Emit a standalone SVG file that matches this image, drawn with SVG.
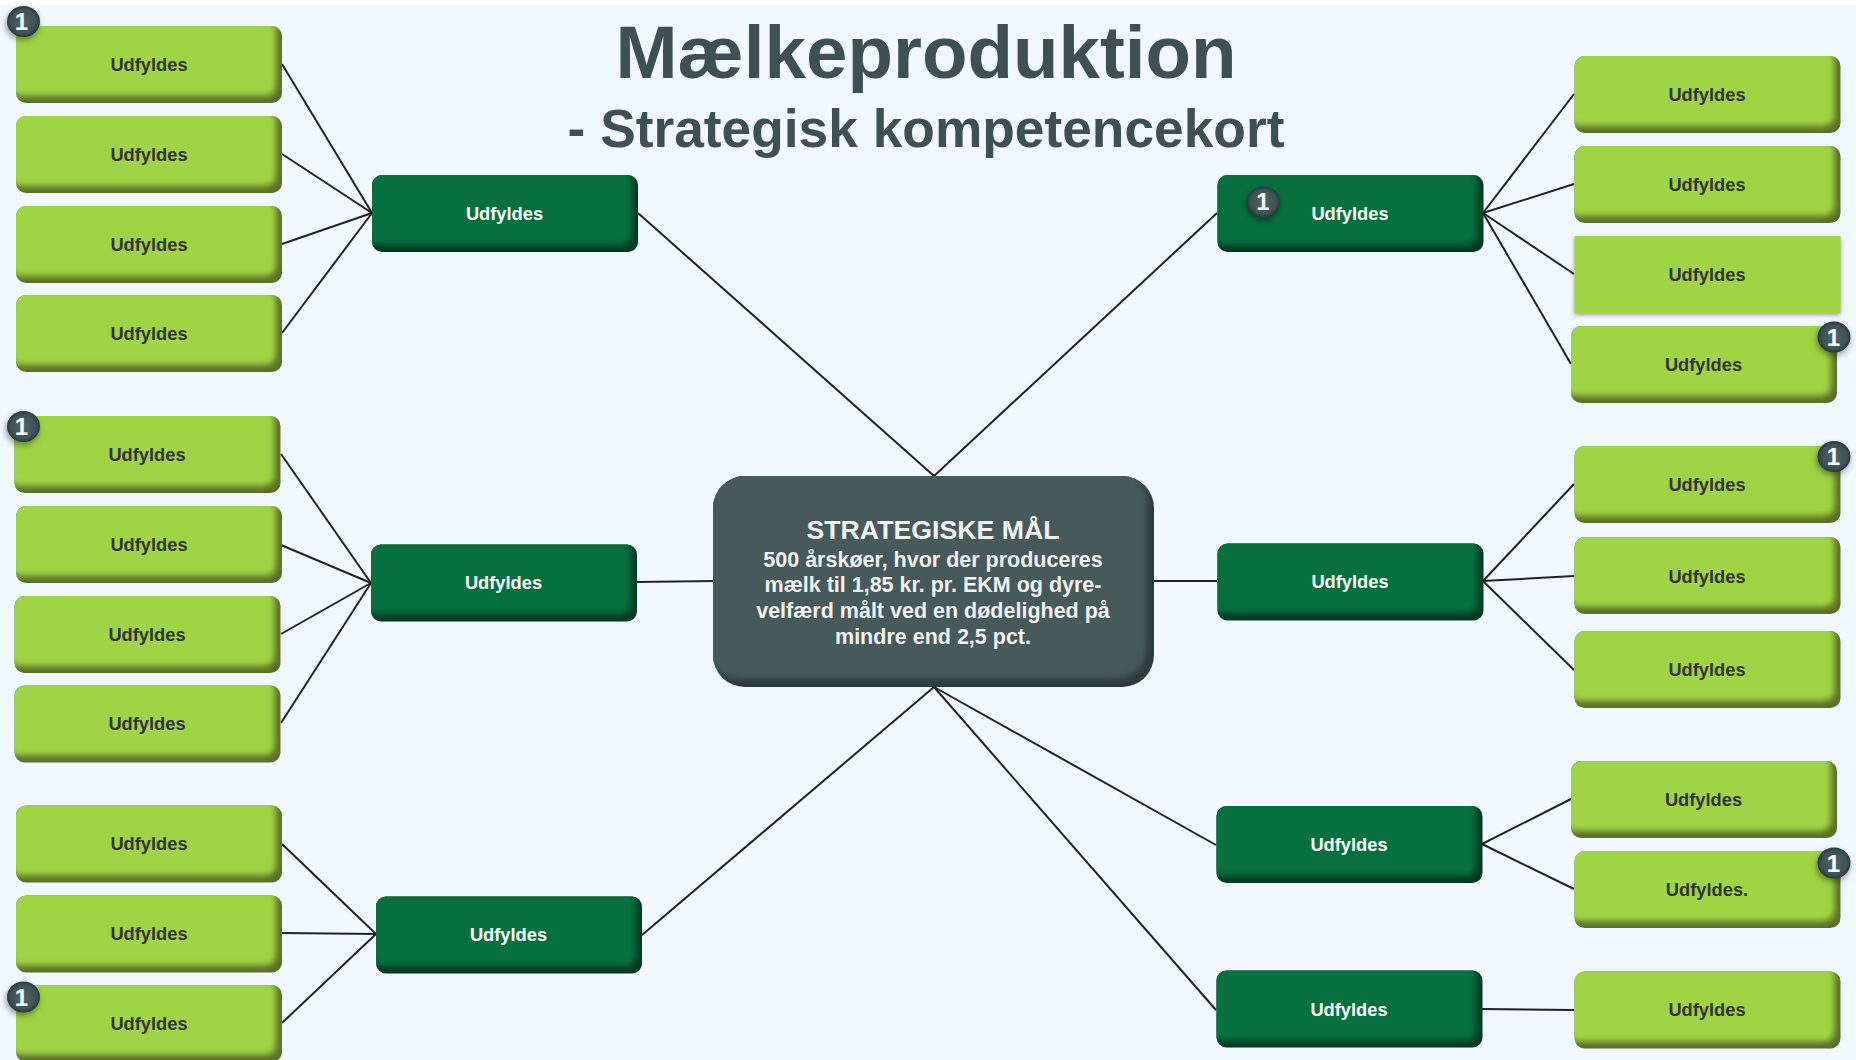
<svg xmlns="http://www.w3.org/2000/svg" width="1856" height="1060" viewBox="0 0 1856 1060">
<style>
text{font-family:"Liberation Sans",Arial,sans-serif;font-weight:700;text-anchor:middle}
filter{color-interpolation-filters:sRGB}
.l{fill:#5a7027;filter:url(#bl)}
.d{fill:#023a20;filter:url(#bd)}
.flat{fill:#9fd544;filter:url(#sh)}
.tl{font-size:18.3px;fill:#333333}
.td{font-size:18.3px;fill:#ffffff}
.c line{stroke:#222222;stroke-width:2}
.b{fill:url(#bg);filter:url(#sh2)}
.n{font-size:24px;fill:#ffffff}
.m{font-size:21.500px;fill:#f2f2f2}
.h{font-size:26.700px}
</style>
<defs>
<filter id="bl" x="-5%" y="-10%" width="110%" height="120%"><feGaussianBlur in="SourceAlpha" stdDeviation="3.200"/><feOffset dx="-6" dy="-7"/><feComposite in2="SourceAlpha" operator="in" result="a"/><feFlood flood-color="#9fd544"/><feComposite in2="a" operator="in" result="f"/><feMerge><feMergeNode in="SourceGraphic"/><feMergeNode in="f"/></feMerge></filter>
<filter id="bd" x="-5%" y="-10%" width="110%" height="120%"><feGaussianBlur in="SourceAlpha" stdDeviation="3.200"/><feOffset dx="-6" dy="-7"/><feComposite in2="SourceAlpha" operator="in" result="a"/><feFlood flood-color="#07703f"/><feComposite in2="a" operator="in" result="f"/><feMerge><feMergeNode in="SourceGraphic"/><feMergeNode in="f"/></feMerge></filter>
<filter id="bc" x="-5%" y="-10%" width="110%" height="120%"><feGaussianBlur in="SourceAlpha" stdDeviation="3.500"/><feOffset dx="-7" dy="-8"/><feComposite in2="SourceAlpha" operator="in" result="a"/><feFlood flood-color="#465a5c"/><feComposite in2="a" operator="in" result="f"/><feMerge><feMergeNode in="SourceGraphic"/><feMergeNode in="f"/></feMerge></filter>
<filter id="sh" x="-5%" y="-10%" width="110%" height="125%"><feDropShadow dx="0" dy="2" stdDeviation="2" flood-color="#000" flood-opacity=".35"/></filter>
<filter id="sh2" x="-40%" y="-40%" width="180%" height="190%"><feDropShadow dx="-1" dy="3" stdDeviation="3" flood-color="#000" flood-opacity=".4"/></filter>
<radialGradient id="bg" cx=".5" cy=".5" r=".55"><stop offset="0" stop-color="#506366"/><stop offset=".7" stop-color="#3e5154"/><stop offset="1" stop-color="#202d30"/></radialGradient>
</defs>
<rect width="1856" height="1060" fill="#f2f8ff"/>
<rect width="1856" height="5" fill="#fbfdff"/>
<g id="title">
<text x="926" y="78" font-size="74.500" fill="#3f5054">Mælkeproduktion</text>
<text x="926" y="147" font-size="53.300" fill="#3f5054">- Strategisk kompetencekort</text>
</g>
<g id="connectors" class="c">
<line x1="934" y1="476" x2="638" y2="213"/><line x1="934" y1="476" x2="1217" y2="213"/>
<line x1="714" y1="581" x2="637" y2="582"/><line x1="1154" y1="581" x2="1217" y2="581"/>
<line x1="934" y1="687" x2="642" y2="935"/><line x1="934" y1="687" x2="1216" y2="845"/><line x1="934" y1="687" x2="1216" y2="1010"/>
<line x1="282" y1="64" x2="372" y2="213"/><line x1="282" y1="154" x2="372" y2="213"/><line x1="282" y1="244" x2="372" y2="213"/><line x1="282" y1="333" x2="372" y2="213"/>
<line x1="281" y1="454" x2="371" y2="583"/><line x1="281" y1="545" x2="371" y2="583"/><line x1="281" y1="634" x2="371" y2="583"/><line x1="281" y1="723" x2="371" y2="583"/>
<line x1="282" y1="844" x2="376" y2="934"/><line x1="282" y1="933" x2="376" y2="934"/><line x1="282" y1="1023" x2="376" y2="934"/>
<line x1="1483" y1="213" x2="1574" y2="94"/><line x1="1483" y1="213" x2="1574" y2="184"/><line x1="1483" y1="213" x2="1574" y2="274"/><line x1="1483" y1="213" x2="1571" y2="364"/>
<line x1="1483" y1="581" x2="1574" y2="484"/><line x1="1483" y1="581" x2="1574" y2="576"/><line x1="1483" y1="581" x2="1574" y2="670"/>
<line x1="1482" y1="844" x2="1571" y2="799"/><line x1="1482" y1="844" x2="1574" y2="889"/>
<line x1="1482" y1="1009" x2="1574" y2="1010"/>
</g>
<g id="center"><rect x="713" y="476" width="441" height="211" rx="32" fill="#2c3a3b" filter="url(#bc)"/>
<text class="m h" x="933" y="539">STRATEGISKE MÅL</text>
<text class="m" x="933" y="567">500 årskøer, hvor der produceres</text>
<text class="m" x="933" y="592">mælk til 1,85 kr. pr. EKM og dyre-</text>
<text class="m" x="933" y="618">velfærd målt ved en dødelighed på</text>
<text class="m" x="933" y="644">mindre end 2,5 pct.</text></g>
<g id="d1"><rect class="d" x="372" y="175" width="266" height="77" rx="10"/><text class="td" x="504.500" y="220">Udfyldes</text></g>
<g id="d2"><rect class="d" x="371" y="544.500" width="266" height="77" rx="10"/><text class="td" x="503.500" y="589">Udfyldes</text></g>
<g id="d3"><rect class="d" x="376" y="896.500" width="266" height="77" rx="10"/><text class="td" x="508.500" y="941">Udfyldes</text></g>
<g id="d4"><rect class="d" x="1217.500" y="175" width="266" height="77" rx="10"/><text class="td" x="1350" y="220">Udfyldes</text></g>
<g id="d5"><rect class="d" x="1217.500" y="543.500" width="266" height="77" rx="10"/><text class="td" x="1350" y="588">Udfyldes</text></g>
<g id="d6"><rect class="d" x="1216.500" y="806" width="266" height="77" rx="10"/><text class="td" x="1349" y="851">Udfyldes</text></g>
<g id="d7"><rect class="d" x="1216.500" y="970.500" width="266" height="77" rx="10"/><text class="td" x="1349" y="1016">Udfyldes</text></g>
<g id="l1"><rect class="l" x="16" y="26" width="266" height="77" rx="10"/><text class="tl" x="149" y="71">Udfyldes</text></g>
<g id="l2"><rect class="l" x="16" y="116" width="266" height="77" rx="10"/><text class="tl" x="149" y="161">Udfyldes</text></g>
<g id="l3"><rect class="l" x="16" y="206" width="266" height="77" rx="10"/><text class="tl" x="149" y="251">Udfyldes</text></g>
<g id="l4"><rect class="l" x="16" y="295" width="266" height="77" rx="10"/><text class="tl" x="149" y="340">Udfyldes</text></g>
<g id="l5"><rect class="l" x="14.500" y="416" width="266" height="77" rx="10"/><text class="tl" x="147" y="461">Udfyldes</text></g>
<g id="l6"><rect class="l" x="16" y="506" width="266" height="77" rx="10"/><text class="tl" x="149" y="551">Udfyldes</text></g>
<g id="l7"><rect class="l" x="14.500" y="596" width="266" height="77" rx="10"/><text class="tl" x="147" y="641">Udfyldes</text></g>
<g id="l8"><rect class="l" x="14.500" y="685.500" width="266" height="77" rx="10"/><text class="tl" x="147" y="730">Udfyldes</text></g>
<g id="l9"><rect class="l" x="16" y="805.500" width="266" height="77" rx="10"/><text class="tl" x="149" y="850">Udfyldes</text></g>
<g id="l10"><rect class="l" x="16" y="895.500" width="266" height="77" rx="10"/><text class="tl" x="149" y="940">Udfyldes</text></g>
<g id="l11"><rect class="l" x="16" y="985" width="266" height="77" rx="10"/><text class="tl" x="149" y="1030">Udfyldes</text></g>
<g id="r1"><rect class="l" x="1574.500" y="56" width="266" height="77" rx="10"/><text class="tl" x="1707" y="101">Udfyldes</text></g>
<g id="r2"><rect class="l" x="1574.500" y="146" width="266" height="77" rx="10"/><text class="tl" x="1707" y="191">Udfyldes</text></g>
<g id="r3"><rect class="flat" x="1574.500" y="236" width="266" height="77"/><text class="tl" x="1707" y="281">Udfyldes</text></g>
<g id="r4"><rect class="l" x="1571" y="326" width="266" height="77" rx="10"/><text class="tl" x="1703.500" y="371">Udfyldes</text></g>
<g id="r5"><rect class="l" x="1574.500" y="446" width="266" height="77" rx="10"/><text class="tl" x="1707" y="491">Udfyldes</text></g>
<g id="r6"><rect class="l" x="1574.500" y="537" width="266" height="77" rx="10"/><text class="tl" x="1707" y="583">Udfyldes</text></g>
<g id="r7"><rect class="l" x="1574.500" y="631" width="266" height="77" rx="10"/><text class="tl" x="1707" y="676">Udfyldes</text></g>
<g id="r8"><rect class="l" x="1571" y="761" width="266" height="77" rx="10"/><text class="tl" x="1703.500" y="806">Udfyldes</text></g>
<g id="r9"><rect class="l" x="1574.500" y="851" width="266" height="77" rx="10"/><text class="tl" x="1707" y="896">Udfyldes.</text></g>
<g id="r10"><rect class="l" x="1574.500" y="971.500" width="266" height="77" rx="10"/><text class="tl" x="1707" y="1016">Udfyldes</text></g>
<g id="badges">
<g><ellipse class="b" cx="23.500" cy="21.500" rx="16.500" ry="15.500"/><text class="n" x="21.500" y="29.500">1</text></g>
<g><ellipse class="b" cx="23.500" cy="426.500" rx="16.500" ry="15.500"/><text class="n" x="21.500" y="434.500">1</text></g>
<g><ellipse class="b" cx="23.500" cy="997" rx="16.500" ry="15.500"/><text class="n" x="21.500" y="1005.500">1</text></g>
<g><ellipse class="b" cx="1263.500" cy="202" rx="16.500" ry="15.500"/><text class="n" x="1263" y="210">1</text></g>
<g><ellipse class="b" cx="1834" cy="337" rx="16.500" ry="15.500"/><text class="n" x="1833.500" y="345.500">1</text></g>
<g><ellipse class="b" cx="1834" cy="456.500" rx="16.500" ry="15.500"/><text class="n" x="1833.500" y="464.500">1</text></g>
<g><ellipse class="b" cx="1834" cy="863" rx="16.500" ry="15.500"/><text class="n" x="1833.500" y="871.500">1</text></g>
</g>
</svg>
